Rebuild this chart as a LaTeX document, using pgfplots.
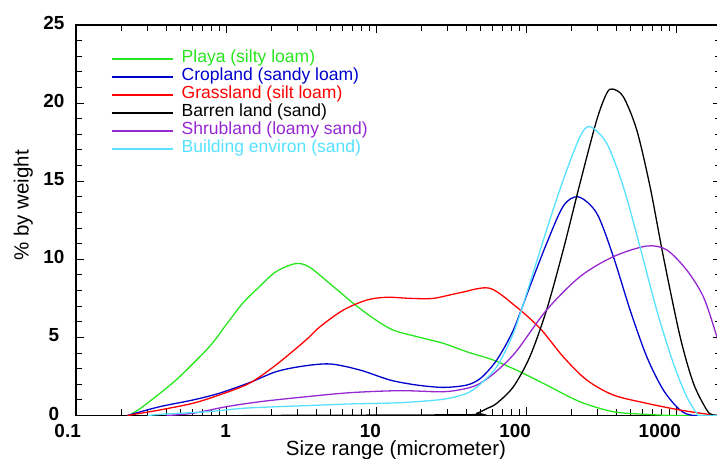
\documentclass[border=0pt]{standalone}
\usepackage{pgfplots}
\pgfplotsset{compat=1.18}
\usepackage{fontspec}
\setmainfont{Liberation Sans}
\definecolor{cgreen}{RGB}{40,230,30}
\definecolor{cblue}{RGB}{0,0,205}
\definecolor{cred}{RGB}{255,0,0}
\definecolor{cpurple}{RGB}{150,40,210}
\definecolor{ccyan}{RGB}{85,225,255}
\newcommand{\legline}{\rule[3bp]{61.6bp}{2bp}\hspace{8.4bp}}
\begin{document}
\begin{tikzpicture}
\begin{axis}[
  name=ax,
  xmode=log, log basis x=10,
  scale only axis, width=645.2bp, height=390.5bp,
  xmin=0.1, xmax=2000, ymin=0, ymax=25,
  xtick={0.1,1,10,100,1000},
  xticklabels={0.1,1,10,100,1000},
  minor xtick={0.2,0.3,0.4,0.5,0.6,0.7,0.8,0.9,2,3,4,5,6,7,8,9,20,30,40,50,60,70,80,90,200,300,400,500,600,700,800,900},
  ytick={0,5,10,15,20,25},
  minor ytick={1,2,3,4,6,7,8,9,11,12,13,14,16,17,18,19,21,22,23,24},
  tick align=inside,
  major tick length=8.5bp, minor tick length=6bp,
  tick style={black, line width=1bp},
  axis line style={line width=1.2bp},
  /pgf/number format/assume math mode=true,
  tick label style={font=\fontsize{19}{20}\selectfont\bfseries},
  xticklabel style={anchor=north east, inner sep=0pt, xshift=5bp, yshift=-8.5bp},
  yticklabel style={anchor=center, inner sep=0pt, xshift=-22bp, yshift=2bp},
  xlabel={Size range (micrometer)},
  ylabel={\% by weight},
  label style={font=\fontsize{20.6}{22}\selectfont},
  xlabel style={at={(axis description cs:0.496,-0.1037)}, anchor=base, inner sep=0pt},
  ylabel style={at={(axis description cs:-0.0735,0.538)}, anchor=base, inner sep=0pt},
  legend style={draw=none, fill=none, at={(axis description cs:0.0553,0.93598)}, anchor=north west,
    inner sep=0pt, outer sep=0pt, row sep=0pt, column sep=0pt,
    nodes={inner sep=0pt, text height=13bp, text depth=5bp},
    font=\fontsize{17.6}{18}\selectfont},
  legend cell align=left,
  legend image code/.code={},
]
% Playa (silty loam)
\addplot[draw=cgreen, line width=1.3bp, smooth] coordinates {
(0.225,0) (0.278,0.56) (0.464,2.27) (0.774,4.4) (1.0,5.8) (1.29,7.18) (1.67,8.25) (2.15,9.2) (2.9,9.72)
(3.6,9.5) (5.2,8.25) (7.06,7.18) (9.6,6.22) (13.0,5.47) (18.7,5.05) (28.1,4.62)
(40.3,4.08) (60.5,3.55) (91.2,2.8) (137,1.95) (229,0.88) (382,0.24) (638,0.07) (1000,0) (2000,0)};
\addlegendentry{\textcolor{cgreen}{\legline Playa (silty loam)}}
% Cropland (sandy loam)
\addplot[draw=cblue, line width=1.3bp, smooth] coordinates {
(0.22,0) (0.36,0.56) (0.6,0.99) (0.9,1.42) (1.43,2.1) (2.15,2.8) (3.2,3.15) (4.94,3.3)
(7.82,2.91) (12.4,2.27) (18.7,1.95) (28.1,1.8) (40.3,1.95) (50,2.4) (63.8,3.55)
(82.3,5.47) (106,8.25) (137,11.0) (177,13.4) (223,14.0) (296,12.95) (382,10.17)
(494,6.75) (638,3.76) (823,1.63) (1064,0.35) (1306,0) (2000,0)};
\addlegendentry{\textcolor{cblue}{\legline Cropland (sandy loam)}}
% Grassland (silt loam)
\addplot[draw=cred, line width=1.3bp, smooth] coordinates {
(0.22,0) (0.36,0.35) (0.6,0.78) (0.9,1.31) (1.43,2.06) (2.15,3.23) (3.41,4.83)
(4.24,5.69) (6.05,6.75) (8.67,7.39) (11.8,7.57) (16.9,7.5) (24.1,7.5) (36.3,7.86)
(57,8.15) (85,7.0) (124,5.58) (177,3.76) (254,2.27) (382,1.31) (638,0.78)
(1064,0.35) (1765,0.03) (2000,0)};
\addlegendentry{\textcolor{cred}{\legline Grassland (silt loam)}}
% Barren land (sand)
\addplot[draw=black, line width=1.3bp, smooth] coordinates {
(1.3,0) (40,0.05) (46.9,0.14) (55,0.45) (63.8,0.78) (82.3,1.84) (106,3.76) (137,6.75)
(177,10.6) (229,14.87) (296,18.92) (345,20.63) (378,20.9) (445,20.41) (547,18.28)
(671,14.65) (823,10.17) (1064,5.05) (1306,2.06) (1603,0.35) (1750,0.05) (2000,0)};
\addlegendentry{\textcolor{black}{\legline Barren land (sand)}}
% Shrubland (loamy sand)
\addplot[draw=cpurple, line width=1.3bp, smooth] coordinates {
(0.4,0) (0.6,0.14) (1.0,0.56) (1.67,0.88) (3.1,1.16) (6.7,1.46) (14.5,1.59) (28.1,1.52)
(40.3,1.74) (49.4,2.06) (63,2.8) (86,4.1) (137,6.75) (229,8.89) (382,10.17)
(638,10.85) (867,10.6) (1178,9.31) (1521,7.6) (1850,5.2) (2000,4.0)};
\addlegendentry{\textcolor{cpurple}{\legline Shrubland (loamy sand)}}
% Building environ (sand)
\addplot[draw=ccyan, line width=1.3bp, smooth] coordinates {
(0.3,0) (0.4,0.1) (0.77,0.25) (1.29,0.46) (2.15,0.56) (3.41,0.63) (6.7,0.74) (14.5,0.82)
(28.1,1.04) (40.3,1.42) (49.4,2.0) (63.8,3.12) (82.3,5.26) (106,8.46) (137,11.87)
(177,15.08) (229,17.85) (267,18.49) (345,17.43) (445,14.65) (575,10.8) (743,6.75)
(959,3.34) (1178,1.2) (1374,0.14) (1450,0) (2000,0)};
\addlegendentry{\textcolor{ccyan}{\legline Building environ (sand)}}
\end{axis}
\pgfresetboundingbox
\path[use as bounding box] ([shift={(-76bp,-43.5bp)}]ax.south west) rectangle ([shift={(-4.2bp,25bp)}]ax.north east);
\end{tikzpicture}
\end{document}
